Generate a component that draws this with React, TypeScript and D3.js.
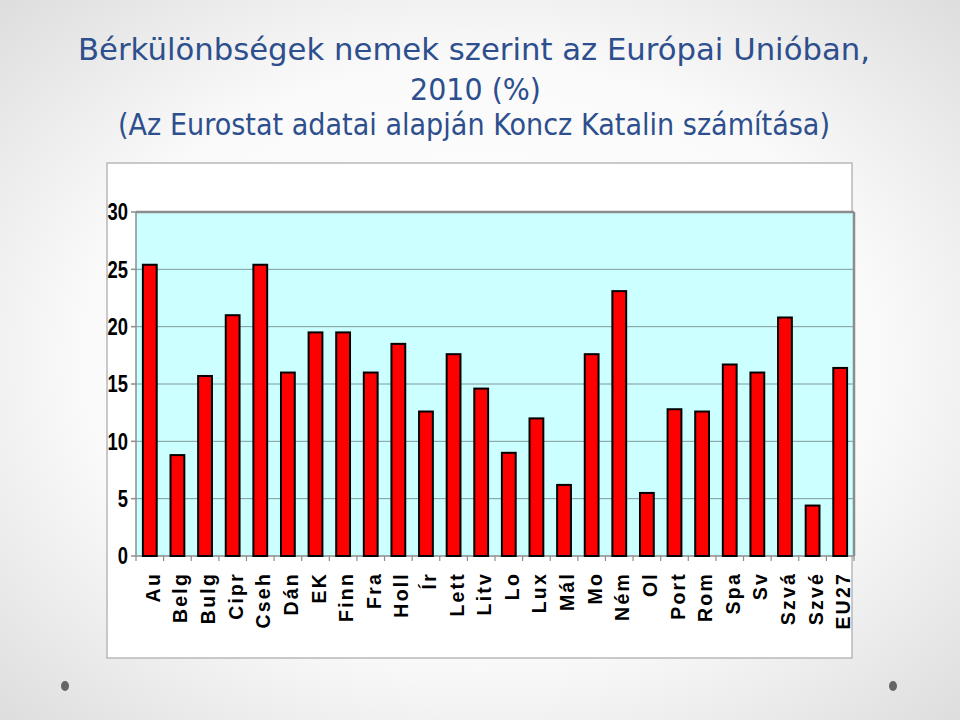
import React from "react";
import * as d3 from "d3";

const categories = ["Au","Belg","Bulg","Cipr","Cseh","Dán","EK","Finn","Fra","Holl","Ír","Lett","Litv","Lo","Lux","Mál","Mo","Ném","Ol","Port","Rom","Spa","Sv","Szvá","Szvé","EU27"];
const values = [25.4,8.8,15.7,21.0,25.4,16.0,19.5,19.5,16.0,18.5,12.6,17.6,14.6,9.0,12.0,6.2,17.6,23.1,5.5,12.8,12.6,16.7,16.0,20.8,4.4,16.4];
const yTicks = [0,5,10,15,20,25,30];
const titleLines = [
  "Bérkülönbségek nemek szerint az Európai Unióban,",
  "2010 (%)",
  "(Az Eurostat adatai alapján Koncz Katalin számítása)",
];

export default function App() {
  const W = 960, H = 720;
  const plot = { left: 136, top: 212, right: 854, bottom: 556 };
  const x = d3.scaleBand<string>().domain(categories).range([plot.left, plot.right]).paddingInner(0.5).paddingOuter(0.25);
  const xb = d3.scaleBand<string>().domain(categories).range([plot.left, plot.right]);
  const y = d3.scaleLinear().domain([0, 30]).range([plot.bottom, plot.top]);
  const arial = "'Liberation Sans', Arial, sans-serif";
  const titleFont = "'DejaVu Sans', Verdana, sans-serif";
  const titleColor = "#2d4f8e";
  const titleY = [60, 100, 135];
  const titleX = [[78, 792], [410, 131], [118, 712]];
  return (
    <svg width={W} height={H} style={{ position: "absolute", left: 0, top: 0 }}>
      <defs>
        <radialGradient id="bg" cx="50%" cy="50%" r="75%">
          <stop offset="0%" stopColor="#ffffff" />
          <stop offset="55%" stopColor="#fafafa" />
          <stop offset="100%" stopColor="#d9d9d9" />
        </radialGradient>
      </defs>
      <rect x={0} y={0} width={W} height={H} fill="url(#bg)" />
      {titleLines.map((t, i) => (
        <text key={i} x={titleX[i][0]} y={titleY[i]} textLength={titleX[i][1]} lengthAdjust="spacingAndGlyphs"
          fontFamily={titleFont} fontSize={30} fill={titleColor}>{t}</text>
      ))}
      <rect x={107} y={163} width={745} height={495} fill="#ffffff" stroke="#b8b8b8" strokeWidth={1.5} />
      <rect x={plot.left} y={plot.top} width={plot.right - plot.left} height={plot.bottom - plot.top} fill="#ccffff" />
      {yTicks.filter(t => t > 0 && t < 30).map(t => (
        <line key={t} x1={plot.left} x2={plot.right} y1={y(t)} y2={y(t)} stroke="#7f9a9a" strokeWidth={1} />
      ))}
      <line x1={plot.left} x2={plot.right} y1={plot.top} y2={plot.top} stroke="#8c8c8c" strokeWidth={2.5} />
      <line x1={plot.right} x2={plot.right} y1={plot.top} y2={plot.bottom} stroke="#8c8c8c" strokeWidth={2.5} />
      <line x1={plot.left} x2={plot.left} y1={plot.top} y2={plot.bottom} stroke="#8c8c8c" strokeWidth={1.5} />
      <line x1={plot.left} x2={plot.right} y1={plot.bottom} y2={plot.bottom} stroke="#8c8c8c" strokeWidth={1.5} />
      {yTicks.map(t => (
        <g key={t}>
          <line x1={plot.left - 5} x2={plot.left} y1={y(t)} y2={y(t)} stroke="#8c8c8c" strokeWidth={1.5} />
          <text transform={`translate(128,${y(t)}) scale(0.8,1)`} dy="0.36em" textAnchor="end" fontFamily={arial}
            fontWeight="bold" fontSize={23} fill="#000">{t}</text>
        </g>
      ))}
      {categories.map((c) => (
        <line key={"t" + c} x1={(xb(c) as number)} x2={(xb(c) as number)} y1={plot.bottom} y2={plot.bottom + 5} stroke="#8c8c8c" strokeWidth={1.2} />
      ))}
      <line x1={plot.right} x2={plot.right} y1={plot.bottom} y2={plot.bottom + 5} stroke="#8c8c8c" strokeWidth={1.2} />
      {categories.map((c, i) => (
        <rect key={c} x={x(c)} y={y(values[i])} width={x.bandwidth()} height={plot.bottom - y(values[i])}
          fill="#ff0000" stroke="#000" strokeWidth={2} />
      ))}
      {categories.map(c => {
        const cx = (xb(c) as number) + xb.bandwidth() / 2;
        return (
          <text key={"l" + c} transform={`translate(${cx + 10},${572}) rotate(-90)`} textAnchor="end"
            fontFamily={arial} fontWeight="bold" fontSize={19.5} letterSpacing={2.2} fill="#000">{c}</text>
        );
      })}
      <ellipse cx={65} cy={686} rx={4} ry={5} fill="#666" />
      <ellipse cx={893} cy={686} rx={4} ry={5} fill="#666" />
    </svg>
  );
}
